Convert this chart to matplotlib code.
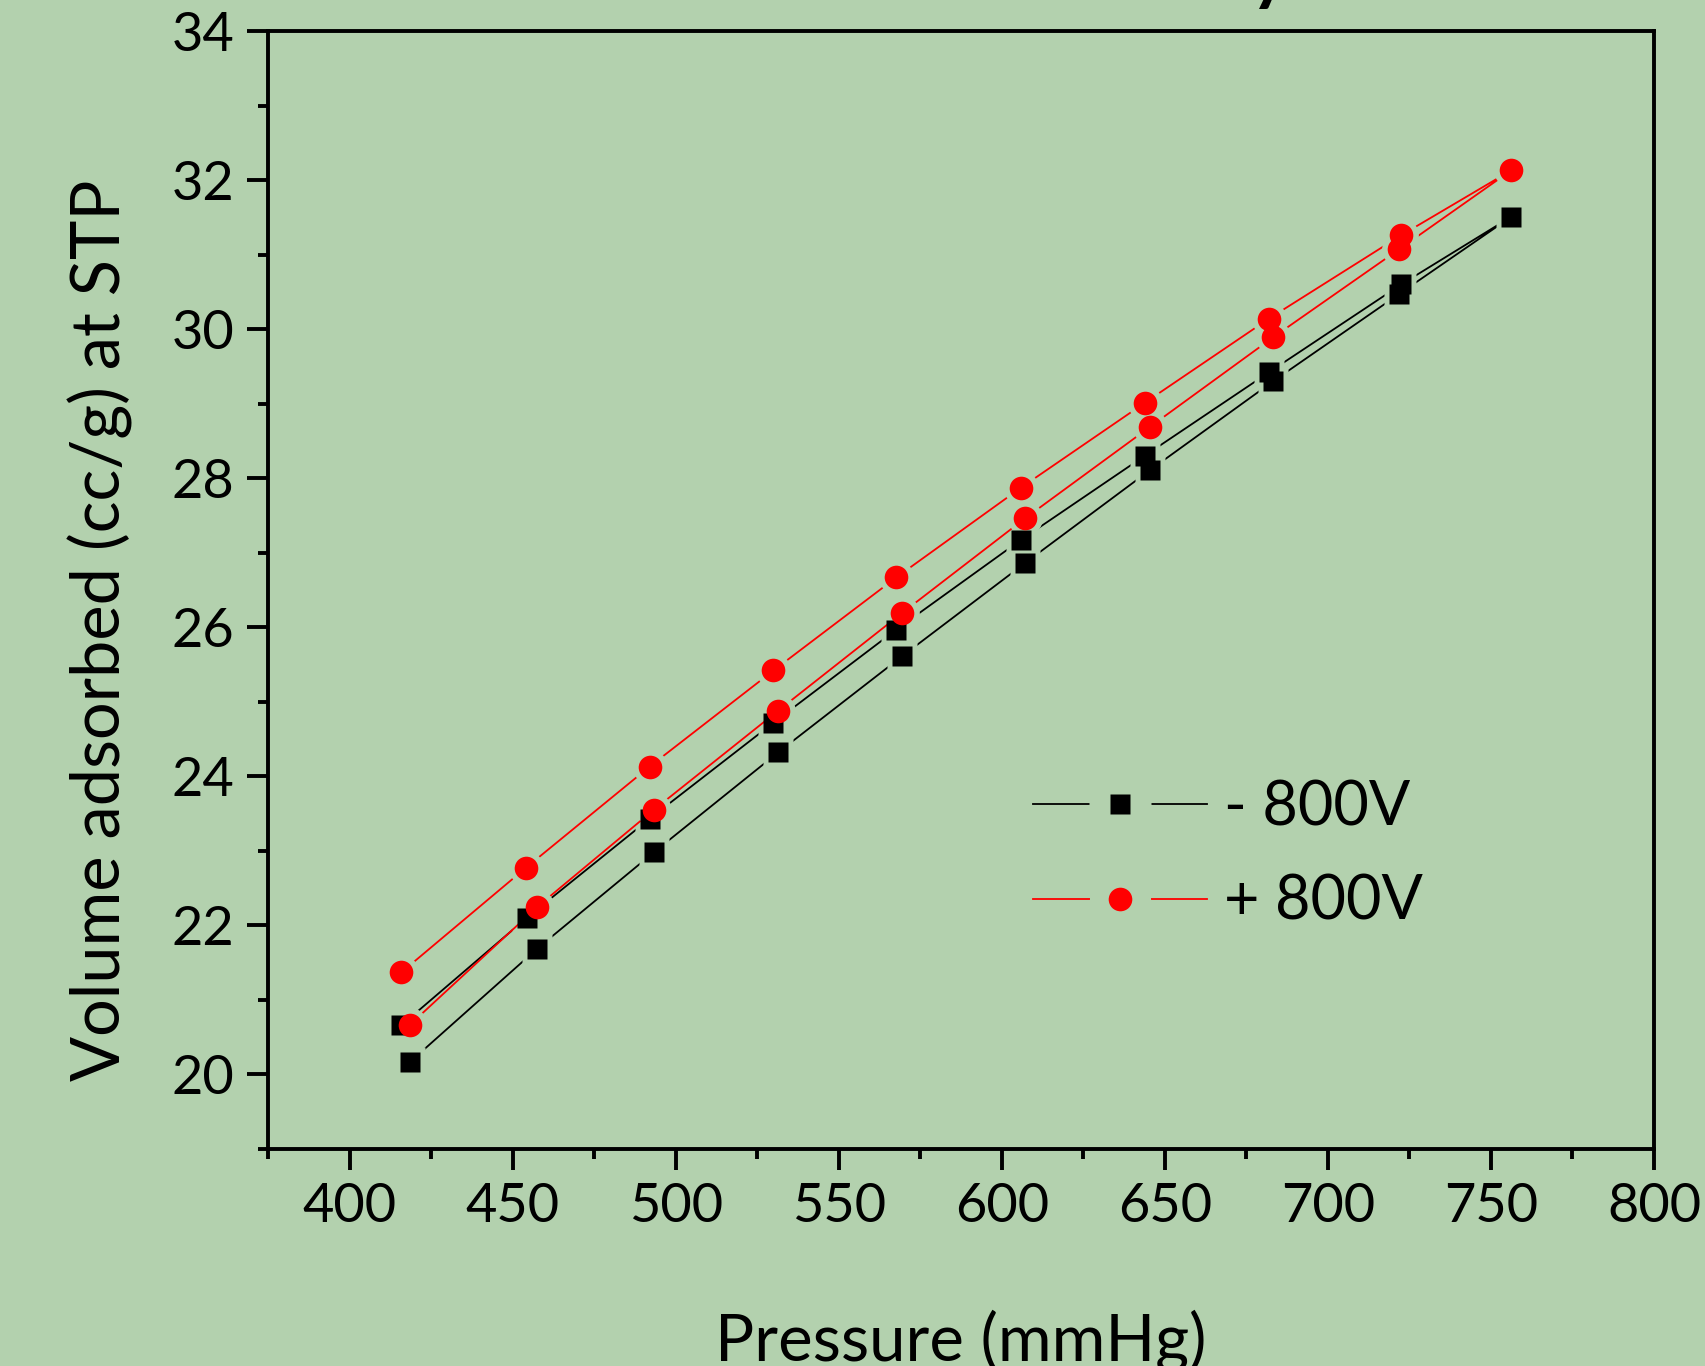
import matplotlib
matplotlib.use('Agg')
import matplotlib.pyplot as plt
from matplotlib.lines import Line2D
from matplotlib.ticker import MultipleLocator

plt.rcParams['font.family'] = ['Lato', 'DejaVu Sans']

# 数据 (mmHg, cc/g)
neg_ads_x = [418.6, 457.6, 493.3, 531.4, 569.4, 607.1, 645.5, 683.2, 721.8]
neg_ads_y = [20.17, 21.69, 22.98, 24.32, 25.61, 26.86, 28.11, 29.30, 30.47]
neg_des_x = [415.9, 454.3, 492.0, 530.0, 567.7, 605.8, 643.8, 681.9, 722.5]
neg_des_y = [20.66, 22.10, 23.43, 24.72, 25.97, 27.17, 28.30, 29.42, 30.60]
neg_top = (756.3, 31.51)

pos_ads_x = [418.6, 457.6, 493.3, 531.4, 569.4, 607.1, 645.5, 683.2, 721.8]
pos_ads_y = [20.67, 22.25, 23.55, 24.88, 26.19, 27.46, 28.69, 29.89, 31.07]
pos_des_x = [415.9, 454.0, 492.0, 530.0, 567.7, 605.8, 643.8, 681.9, 722.5]
pos_des_y = [21.37, 22.77, 24.13, 25.42, 26.67, 27.87, 29.01, 30.14, 31.26]
pos_top = (756.2, 32.13)

labels = ['- 800V', '+ 800V']

BG = '#b3d1ae'


def loop(ads_x, ads_y, des_x, des_y, top):
    # 吸附支 -> 顶点 -> 脱附支(倒序)
    x = list(ads_x) + [top[0]] + list(des_x[::-1])
    y = list(ads_y) + [top[1]] + list(des_y[::-1])
    return x, y


fig = plt.figure(figsize=(17.06, 13.66), dpi=100, facecolor=BG)
ax = fig.add_axes([268 / 1706, 1 - 1149 / 1366, (1654 - 268) / 1706, (1149 - 31) / 1366])
ax.set_facecolor(BG)

nx, ny = loop(neg_ads_x, neg_ads_y, neg_des_x, neg_des_y, neg_top)
px, py = loop(pos_ads_x, pos_ads_y, pos_des_x, pos_des_y, pos_top)

# 线 + 背景色"光晕"做出线和点之间的空隙
ax.plot(nx, ny, color='black', lw=1.3, zorder=2)
ax.plot(nx, ny, ls='none', marker='s', ms=22, mfc=BG, mec='none', zorder=2.1)
ax.plot(px, py, color='red', lw=1.3, zorder=2.2)
ax.plot(px, py, ls='none', marker='o', ms=25, mfc=BG, mec='none', zorder=2.3)
ax.plot(nx, ny, ls='none', marker='s', ms=15, mfc='black', mec='none', zorder=3)
ax.plot(px, py, ls='none', marker='o', ms=17, mfc='red', mec='none', zorder=3.1)

ax.set_xlim(375, 800)
ax.set_ylim(19, 34)
ax.xaxis.set_major_locator(MultipleLocator(50))
ax.xaxis.set_minor_locator(MultipleLocator(25))
ax.yaxis.set_major_locator(MultipleLocator(2))
ax.yaxis.set_minor_locator(MultipleLocator(1))

for s in ax.spines.values():
    s.set_linewidth(2.8)
ax.tick_params(which='both', direction='out', width=2.8, top=False, right=False)
ax.tick_params(which='major', length=15, labelsize=39, pad=9)
ax.tick_params(which='minor', length=7.5)

fig.text(961 / 1706, 1 - 1360 / 1366, 'Pressure (mmHg)', fontsize=47,
         ha='center', va='baseline')
fig.text(100 / 1706, 1 - 630 / 1366, 'Volume adsorbed (cc/g) at STP', fontsize=48,
         rotation=90, ha='center', va='center')

# 被裁掉的标题只剩一点
fig.text(1268 / 1706, 1.0, 'y', fontsize=42, fontweight='heavy', ha='center', va='baseline')

h_neg = (Line2D([], [], color='black', lw=1.3),
         Line2D([], [], ls='none', marker='s', ms=44, mfc=BG, mec='none'),
         Line2D([], [], ls='none', marker='s', ms=15, mfc='black', mec='none'))
h_pos = (Line2D([], [], color='red', lw=1.3),
         Line2D([], [], ls='none', marker='o', ms=44, mfc=BG, mec='none'),
         Line2D([], [], ls='none', marker='o', ms=17, mfc='red', mec='none'))
fig.legend([h_neg, h_pos], labels, loc='center left',
           bbox_to_anchor=(1033 / 1706, 1 - 855 / 1366), frameon=False,
           fontsize=44, handlelength=2.85, handletextpad=0.28, labelspacing=0.62,
           borderpad=0, borderaxespad=0, numpoints=1)

fig.savefig('out.png', dpi=100, facecolor=BG)
